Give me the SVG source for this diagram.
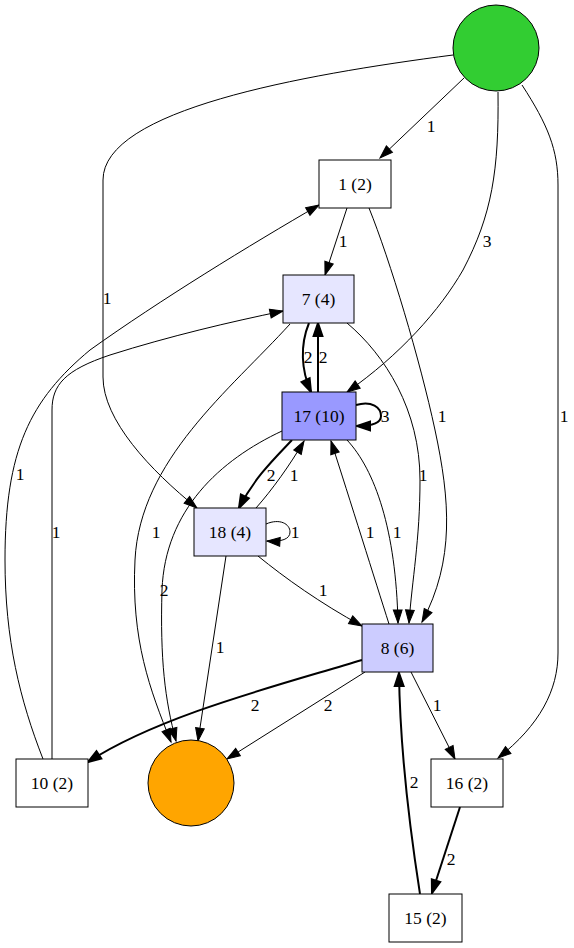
<svg xmlns="http://www.w3.org/2000/svg" width="574" height="948" viewBox="0 0 574 948">
<style>
text { font-family: "Liberation Serif", "Times New Roman", serif; font-size: 17.5px; text-anchor: middle; fill: #000; }
.n { stroke: #000; stroke-width: 1; }
.e { fill: none; stroke: #000; stroke-width: 1; marker-end: url(#a); }
.t { fill: none; stroke: #000; stroke-width: 2; marker-end: url(#b); }
</style>
<defs>
<marker id="a" markerUnits="userSpaceOnUse" markerWidth="14" markerHeight="12" viewBox="0 -6 14 12" refX="13" refY="0" orient="auto" overflow="visible">
<path d="M0,-4.4 L13,0 L0,4.4 Z" fill="#000" stroke="#000" stroke-width="1"/>
</marker>
<marker id="b" markerUnits="userSpaceOnUse" markerWidth="14" markerHeight="12" viewBox="0 -6 14 12" refX="13" refY="0" orient="auto" overflow="visible">
<path d="M0,-4.4 L13,0 L0,4.4 Z" fill="#000" stroke="#000" stroke-width="2"/>
</marker>
</defs>
<rect width="574" height="948" fill="#fff"/>
<g id="edges">
<g id="e-start-1"><path class="e" d="M464,78 L380,158"/><text x="431" y="132">1</text></g>
<g id="e-start-18"><path class="e" d="M453,55 C300,75 103,110 103,180 L103,377 C103,420 150,470 197,508"/><text x="107" y="304">1</text></g>
<g id="e-start-17"><path class="e" d="M498,92 C499,170 492,215 463,270 C440,310 400,355 347,392"/><text x="487" y="247">3</text></g>
<g id="e-start-16"><path class="e" d="M522,85 C548,125 558,150 558,185 L558,653 C558,690 540,725 498,758"/><text x="564" y="422">1</text></g>
<g id="e-1-7"><path class="e" d="M347,208 L325,275"/><text x="343" y="247">1</text></g>
<g id="e-1-8"><path class="e" d="M369,208 C390,260 420,360 435,430 C450,500 455,560 422,622"/><text x="442" y="422">1</text></g>
<g id="e-7-17"><path class="t" d="M309,323 C300,345 301,370 311,392"/><text x="308" y="363">2</text></g>
<g id="e-17-7"><path class="t" d="M318,392 L318,323"/><text x="323" y="363">2</text></g>
<g id="e-7-end"><path class="e" d="M290,324 C230,390 140,460 135,560 C131,640 150,690 171,742"/><text x="156" y="538">1</text></g>
<g id="e-7-8"><path class="e" d="M347,323 C385,355 420,410 420,480 C420,540 412,580 409,623"/><text x="423" y="481">1</text></g>
<g id="e-17-17"><path class="t" d="M356,405 C372,400 381,408 381,416 C381,422 375,426 357,426"/><text x="385" y="422">3</text></g>
<g id="e-17-18"><path class="t" d="M292,440 C275,458 254,478 239,508"/><text x="271" y="481">2</text></g>
<g id="e-18-17"><path class="e" d="M256,508 C272,490 290,465 304,441"/><text x="294" y="481">1</text></g>
<g id="e-17-end"><path class="e" d="M282,431 C220,460 165,510 162,590 C160,660 165,700 176,741"/><text x="164" y="596">2</text></g>
<g id="e-17-8"><path class="e" d="M347,440 C375,470 396,530 398,623"/><text x="397" y="538">1</text></g>
<g id="e-8-17"><path class="e" d="M389,624 C375,580 350,500 331,441"/><text x="370" y="538">1</text></g>
<g id="e-18-18"><path class="e" d="M266,524 C280,518 290,524 290,532 C290,539 282,542 267,541"/><text x="295" y="538">1</text></g>
<g id="e-18-8"><path class="e" d="M258,556 C285,578 320,603 362,626"/><text x="323" y="596">1</text></g>
<g id="e-18-end"><path class="e" d="M226,556 L198,741"/><text x="220" y="653">1</text></g>
<g id="e-8-10"><path class="t" d="M362,660 C280,685 160,715 88,762"/><text x="255" y="711">2</text></g>
<g id="e-8-end"><path class="e" d="M365,672 L227,759"/><text x="328" y="711">2</text></g>
<g id="e-8-16"><path class="e" d="M411,672 L455,759"/><text x="437" y="711">1</text></g>
<g id="e-16-15"><path class="t" d="M460,807 L432,893"/><text x="451" y="865">2</text></g>
<g id="e-15-8"><path class="t" d="M420,894 C410,830 400,750 399,673"/><text x="414" y="788">2</text></g>
<g id="e-10-1"><path class="e" d="M43,759 C20,700 5,640 5,560 C5,450 30,400 90,350 C160,300 250,245 319,205"/><text x="20" y="480">1</text></g>
<g id="e-10-7"><path class="e" d="M52,759 L52,410 C52,385 65,370 110,355 C170,336 230,322 283,311"/><text x="56" y="538">1</text></g>
</g>
<g id="node-start"><circle class="n" cx="496" cy="48" r="43" fill="#32cd32"/></g>
<g id="node-1"><rect class="n" x="319" y="160" width="72" height="48" fill="#fff"/><text x="355" y="190">1 (2)</text></g>
<g id="node-7"><rect class="n" x="283" y="275" width="71" height="48" fill="#e6e6ff"/><text x="318.5" y="305">7 (4)</text></g>
<g id="node-17"><rect class="n" x="282" y="392" width="74" height="48" fill="#9999ff"/><text x="319" y="422">17 (10)</text></g>
<g id="node-18"><rect class="n" x="194" y="508" width="72" height="48" fill="#e6e6ff"/><text x="230" y="538">18 (4)</text></g>
<g id="node-8"><rect class="n" x="362" y="624" width="71" height="48" fill="#ccccff"/><text x="397.5" y="654">8 (6)</text></g>
<g id="node-10"><rect class="n" x="16" y="759" width="72" height="48" fill="#fff"/><text x="52" y="789">10 (2)</text></g>
<g id="node-end"><circle class="n" cx="191" cy="783" r="43" fill="#ffa500"/></g>
<g id="node-16"><rect class="n" x="431" y="759" width="72" height="48" fill="#fff"/><text x="467" y="789">16 (2)</text></g>
<g id="node-15"><rect class="n" x="389" y="894" width="73" height="48" fill="#fff"/><text x="425.5" y="924">15 (2)</text></g>
</svg>
